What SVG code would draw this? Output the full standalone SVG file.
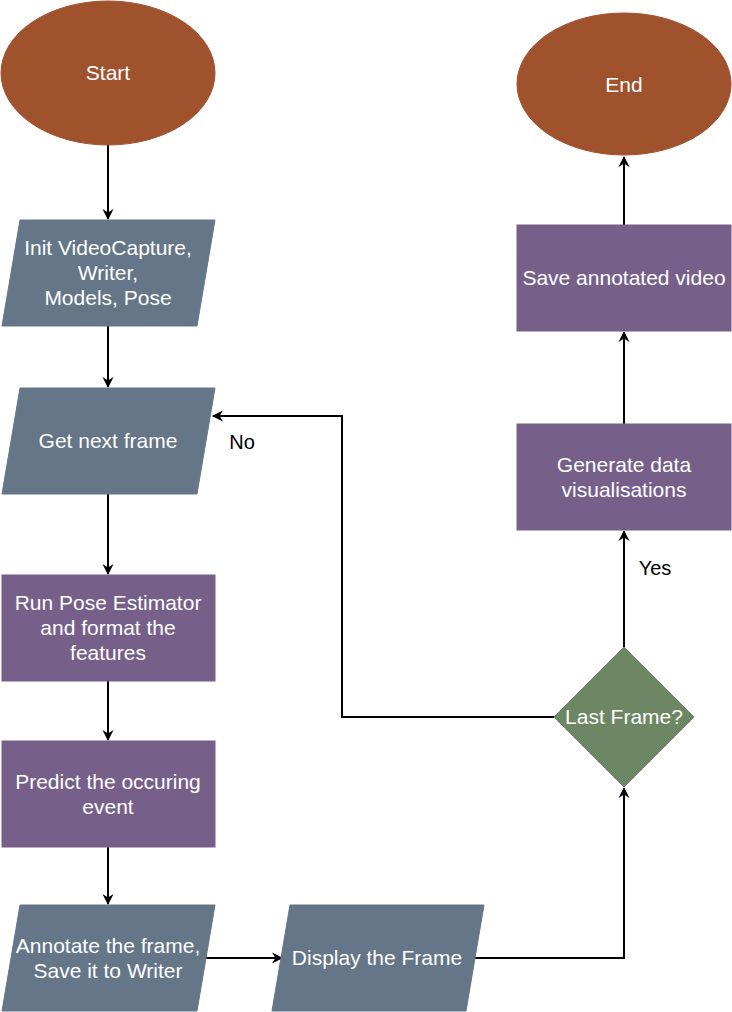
<svg xmlns="http://www.w3.org/2000/svg" width="732" height="1012" viewBox="0 0 732 1012">
<style>
.t{font-family:"Liberation Sans",Arial,sans-serif;font-size:21px;fill:#ffffff;text-anchor:middle}
.l{font-family:"Liberation Sans",Arial,sans-serif;font-size:20px;fill:#000000;text-anchor:middle}
.term{fill:#a0522d;stroke:#a0522d}
.io{fill:#647687;stroke:#647687}
.proc{fill:#76608a;stroke:#76608a}
.dec{fill:#6d8764;stroke:#6d8764}
.e{fill:none;stroke:#000;stroke-width:2;marker-end:url(#a)}
</style>
<defs>
<marker id="a" viewBox="0 0 10 10" refX="9" refY="5" markerWidth="11" markerHeight="11" orient="auto" markerUnits="userSpaceOnUse" overflow="visible">
<path d="M0,0 L10,5 L0,10 L3,5 Z" fill="#000"/>
</marker>
</defs>
<g id="connectors">
<path class="e" d="M108,145 V219"/>
<path class="e" d="M108,326 V387"/>
<path class="e" d="M108,494 V574"/>
<path class="e" d="M108,681 V740"/>
<path class="e" d="M108,847 V904"/>
<path class="e" d="M205,958 H282"/>
<path class="e" d="M475,958 H624 V788"/>
<path class="e" d="M624,647 V531"/>
<path class="e" d="M624,424 V332"/>
<path class="e" d="M624,225 V157"/>
<path class="e" d="M554,717 H342 V416 H213"/>
<text class="l" x="655" y="575">Yes</text>
<text class="l" x="242" y="449">No</text>
</g>
<g id="start">
<ellipse class="term" cx="108" cy="73" rx="107" ry="72"/>
<text class="t" x="108" y="80">Start</text>
</g>
<g id="end">
<ellipse class="term" cx="624" cy="84" rx="107" ry="71"/>
<text class="t" x="624" y="92">End</text>
</g>
<g id="init">
<polygon class="io" points="20,220 215,220 197,326 2,326"/>
<text class="t" x="108" y="255">Init VideoCapture,</text>
<text class="t" x="108" y="280">Writer,</text>
<text class="t" x="108" y="305">Models, Pose</text>
</g>
<g id="getframe">
<polygon class="io" points="20,388 215,388 197,494 2,494"/>
<text class="t" x="108" y="448">Get next frame</text>
</g>
<g id="pose">
<rect class="proc" x="2" y="575" width="213" height="106"/>
<text class="t" x="108" y="610">Run Pose Estimator</text>
<text class="t" x="108" y="635">and format the</text>
<text class="t" x="108" y="660">features</text>
</g>
<g id="predict">
<rect class="proc" x="2" y="741" width="213" height="106"/>
<text class="t" x="108" y="789">Predict the occuring</text>
<text class="t" x="108" y="814">event</text>
</g>
<g id="annotate">
<polygon class="io" points="20,905 215,905 197,1011 2,1011"/>
<text class="t" x="108" y="953">Annotate the frame,</text>
<text class="t" x="108" y="978">Save it to Writer</text>
</g>
<g id="display">
<polygon class="io" points="290,905 484,905 466,1011 272,1011"/>
<text class="t" x="377" y="965">Display the Frame</text>
</g>
<g id="lastframe">
<polygon class="dec" points="624,647 694,717 624,787 554,717"/>
<text class="t" x="624" y="724">Last Frame?</text>
</g>
<g id="generate">
<rect class="proc" x="517" y="424" width="214" height="106"/>
<text class="t" x="624" y="472">Generate data</text>
<text class="t" x="624" y="497">visualisations</text>
</g>
<g id="save">
<rect class="proc" x="517" y="225" width="214" height="106"/>
<text class="t" x="624" y="285">Save annotated video</text>
</g>
</svg>
